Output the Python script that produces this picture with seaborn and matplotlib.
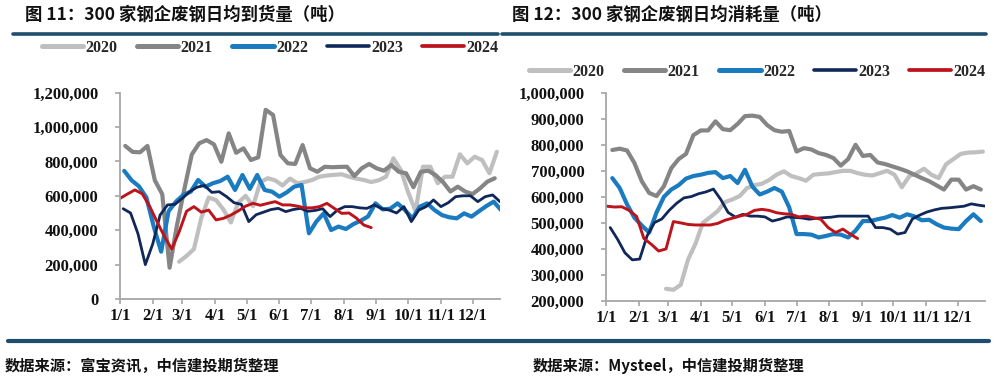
import matplotlib
matplotlib.use("Agg")
import matplotlib.pyplot as plt
import seaborn as sns
import pandas as pd
from matplotlib.lines import Line2D
from matplotlib.ticker import FuncFormatter

# ---------------- data ----------------
years = ["2020", "2021", "2022", "2023", "2024"]
month_labels = ["1/1", "2/1", "3/1", "4/1", "5/1", "6/1", "7/1", "8/1", "9/1", "10/1", "11/1", "12/1"]
month_days = [0, 31, 59, 90, 120, 151, 181, 212, 243, 273, 304, 334]

# Chart 1: daily average arrivals (thousand tonnes), weekly readings
arr_start_day = {"2020": 56, "2021": 5, "2022": 4, "2023": 3, "2024": 0}
arr_2020 = [217, 250, 290, 470, 590, 575, 520, 445, 560, 600, 540, 680, 702, 690, 660, 700, 673,
            680, 692, 711, 718, 722, 725, 711, 700, 692, 680, 690, 711, 818, 750, 620, 510, 769,
            769, 673, 711, 711, 841, 789, 827, 808, 731, 856]
arr_2021 = [890, 855, 853, 890, 690, 610, 182, 430, 640, 840, 905, 924, 899, 798, 963, 850, 876,
            808, 824, 1100, 1070, 837, 789, 785, 895, 760, 740, 769, 766, 768, 769, 715, 760, 785,
            760, 746, 779, 740, 731, 650, 740, 746, 720, 680, 625, 653, 625, 610, 643, 682, 702]
arr_2022 = [745, 690, 655, 590, 420, 275, 510, 566, 605, 624, 692, 653, 673, 686, 711, 634, 721,
            640, 721, 634, 624, 595, 620, 653, 663, 382, 450, 498, 401, 421, 407, 435, 455, 480,
            556, 521, 525, 556, 517, 469, 537, 556, 517, 488, 475, 469, 498, 479, 510, 540, 566, 517]
arr_2023 = [525, 500, 380, 200, 320, 488, 547, 550, 585, 624, 650, 660, 620, 624, 595, 560, 550,
            450, 490, 505, 520, 527, 508, 520, 527, 510, 515, 525, 479, 517, 537, 537, 530, 527,
            547, 525, 517, 500, 537, 450, 517, 537, 576, 537, 560, 595, 600, 600, 566, 595, 605, 566]
arr_2024 = [585, 610, 634, 612, 540, 450, 365, 290, 390, 510, 537, 505, 517, 460, 469, 488, 512,
            540, 556, 545, 556, 566, 547, 547, 540, 530, 530, 537, 556, 527, 498, 500, 470, 430, 415]

# Chart 2: daily average consumption (thousand tonnes), weekly readings
con_start_day = {"2020": 57, "2021": 6, "2022": 6, "2023": 4, "2024": 1}
con_2020 = [247, 243, 262, 360, 420, 500, 522, 545, 580, 590, 603, 634, 645, 650, 665, 685, 698,
            680, 672, 662, 685, 688, 690, 695, 700, 700, 691, 685, 682, 691, 700, 685, 637, 679,
            691, 708, 685, 672, 725, 745, 765, 770, 771, 774]
con_2021 = [780, 785, 778, 730, 660, 615, 603, 641, 710, 745, 765, 837, 855, 855, 890, 860, 856,
            880, 910, 912, 907, 876, 856, 850, 853, 774, 787, 782, 768, 761, 749, 720, 745, 800,
            757, 761, 732, 726, 717, 708, 698, 685, 672, 660, 644, 628, 666, 666, 628, 641, 628]
con_2022 = [672, 634, 571, 520, 490, 463, 540, 600, 628, 645, 670, 680, 685, 692, 695, 672, 680,
            653, 704, 640, 609, 620, 634, 620, 560, 457, 457, 455, 444, 450, 457, 455, 444, 470,
            507, 507, 514, 520, 530, 520, 533, 525, 510, 512, 495, 482, 478, 476, 507, 533, 507]
con_2023 = [482, 437, 385, 358, 361, 450, 501, 515, 548, 575, 596, 601, 612, 619, 630, 590, 540,
            522, 533, 526, 526, 523, 507, 514, 523, 521, 519, 514, 518, 520, 522, 526, 526, 526,
            526, 526, 482, 482, 476, 457, 463, 515, 530, 542, 550, 556, 558, 561, 564, 573, 568, 564]
con_2024 = [564, 561, 562, 548, 525, 440, 418, 392, 400, 505, 500, 494, 492, 492, 492, 498, 510,
            518, 526, 533, 548, 552, 548, 539, 535, 533, 523, 526, 520, 514, 482, 463, 476, 457, 440]

arr_series = dict(zip(years, [arr_2020, arr_2021, arr_2022, arr_2023, arr_2024]))
con_series = dict(zip(years, [con_2020, con_2021, con_2022, con_2023, con_2024]))

title_left = "图 11：300 家钢企废钢日均到货量（吨）"
title_right = "图 12：300 家钢企废钢日均消耗量（吨）"
source_left = "数据来源：富宝资讯，中信建投期货整理"
source_right = "数据来源：Mysteel，中信建投期货整理"

# ---------------- style ----------------
colors = {"2020": "#bfbfbf", "2021": "#858585", "2022": "#1b7bc0", "2023": "#10275a", "2024": "#bd141c"}
widths = {"2020": 3.0, "2021": 3.0, "2022": 3.0, "2023": 2.0, "2024": 2.1}


def to_frame(series, start_day):
    rows = []
    for y in years:
        for i, v in enumerate(series[y]):
            rows.append({"year": y, "day": start_day[y] + 7 * i, "value": v * 1000})
    return pd.DataFrame(rows)


df_arr = to_frame(arr_series, arr_start_day)
df_con = to_frame(con_series, con_start_day)

sns.set_theme(style="ticks")
plt.rcParams["font.family"] = ["Liberation Serif", "Noto Sans CJK SC", "DejaVu Sans"]

W, H = 994, 391
fig = plt.figure(figsize=(W / 100, H / 100), dpi=100)
fig.patch.set_facecolor("white")

ax1 = fig.add_axes([120 / W, (H - 299) / H, 380 / W, (299 - 92.6) / H])
ax2 = fig.add_axes([606 / W, (H - 301) / H, 379 / W, (301 - 92.7) / H])

tick_font = dict(family="Liberation Serif", weight="bold", size=12)
axis_col = "#a6a6a6"

for ax, df, ylim, ystep in [(ax1, df_arr, (0, 1_200_000), 200_000),
                            (ax2, df_con, (200_000, 1_000_000), 100_000)]:
    sns.lineplot(data=df, x="day", y="value", hue="year", size="year",
                 hue_order=years, size_order=years, palette=colors, sizes=widths,
                 estimator=None, legend=False, ax=ax)
    ax.set_xlim(0, 360)
    ax.set_ylim(*ylim)
    ax.set_yticks(range(ylim[0], ylim[1] + 1, ystep))
    ax.yaxis.set_major_formatter(FuncFormatter(lambda v, p: f"{v:,.0f}"))
    ax.set_xticks(month_days)
    ax.set_xticklabels(month_labels)
    ax.set_xlabel("")
    ax.set_ylabel("")
    for s in ["top", "right"]:
        ax.spines[s].set_visible(False)
    for s in ["left", "bottom"]:
        ax.spines[s].set_color(axis_col)
        ax.spines[s].set_linewidth(1.3)
    ax.tick_params(axis="y", length=3.5, width=1.2, color=axis_col, pad=12)
    ax.tick_params(axis="x", length=3.5, width=1.2, color=axis_col, pad=3)
    for lab in ax.get_xticklabels() + ax.get_yticklabels():
        lab.set_fontfamily(tick_font["family"])
        lab.set_fontweight(tick_font["weight"])
        lab.set_fontsize(tick_font["size"])
        lab.set_color("#111111")
    ax.set_facecolor("white")

# legends
handles = [Line2D([], [], color=colors[y], lw=widths[y] + 0.6, solid_capstyle="round") for y in years]
for cx, cy in [(270 / W, 1 - 48 / H), (757 / W, 1 - 72 / H)]:
    fig.legend(handles, years, ncol=5, loc="center", bbox_to_anchor=(cx, cy),
               frameon=False, handlelength=2.6, handletextpad=0.15, columnspacing=1.2,
               borderaxespad=0, borderpad=0,
               prop=dict(family="Liberation Serif", weight="bold", size=11.5))

# titles and header rules
cjk = ["Noto Sans CJK SC", "DejaVu Sans"]
fig.text(25 / W, 1 - 15 / H, title_left, family=cjk, weight="bold", size=12.5, va="center", ha="left", color="#111111")
fig.text(512 / W, 1 - 15 / H, title_right, family=cjk, weight="bold", size=12.5, va="center", ha="left", color="#111111")
rule_col = "#1d4e6d"
fig.add_artist(Line2D([13 / W, 498 / W], [1 - 33.5 / H] * 2, color=rule_col, lw=2.6, transform=fig.transFigure))
fig.add_artist(Line2D([502 / W, 986 / W], [1 - 33.5 / H] * 2, color=rule_col, lw=2.6, transform=fig.transFigure))
fig.add_artist(Line2D([8 / W, 989 / W], [1 - 341 / H] * 2, color=rule_col, lw=3.0, transform=fig.transFigure))

# sources
fig.text(5 / W, 1 - 366 / H, source_left, family=cjk, weight="bold", size=11, va="center", ha="left", color="#111111")
fig.text(533 / W, 1 - 366 / H, source_right, family=cjk, weight="bold", size=11, va="center", ha="left", color="#111111")

fig.savefig("out.png", dpi=100, facecolor="white")
